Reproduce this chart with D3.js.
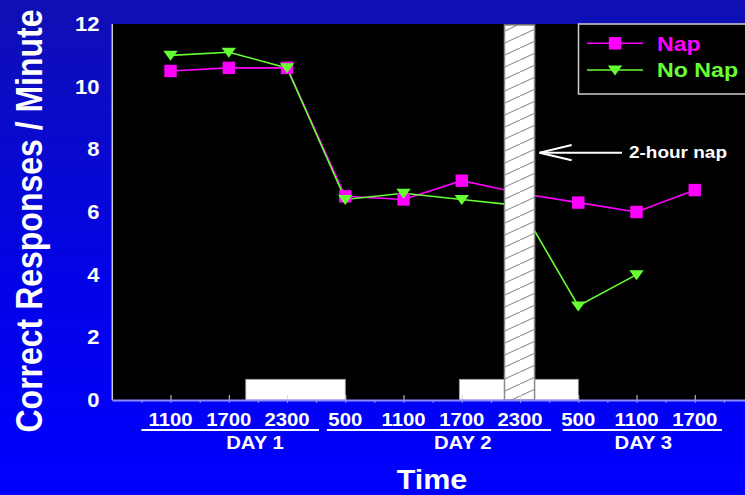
<!DOCTYPE html>
<html><head><meta charset="utf-8">
<script src="https://cdn.jsdelivr.net/npm/d3@7"></script>
<style>html,body{margin:0;padding:0;overflow:hidden;background:#0000ff}</style>
</head><body>
<svg id="chart" width="745" height="495"></svg>
<script>
// ---- data ----
const hours = [11, 17, 23, 29, 35, 41, 47, 53, 59, 65];
const timeLabels = ["1100", "1700", "2300", "500", "1100", "1700", "2300", "500", "1100", "1700"];
const napValues = [10.5, 10.6, 10.6, 6.5, 6.4, 7.0, 6.6, 6.3, 6.0, 6.7];
const noNapValues = [11.0, 11.1, 10.6, 6.4, 6.6, 6.4, 6.2, 3.0, 4.0, null];
const dayLabels = ["DAY 1", "DAY 2", "DAY 3"];
const dayCenters = [19.7, 41.1, 59.7];
const dayRanges = [[8, 26.3], [27.1, 50.2], [51.4, 67.8]];
const yTicks = [0, 2, 4, 6, 8, 10, 12];
const sleepBars = [[18.75, 29], [40.75, 53]];
const sleepBarHeight = 0.66;
const napBar = [45.4, 48.5];
const seriesNames = ["Nap", "No Nap"];
const seriesColors = ["#ff00ff", "#66ff33"];

const SX = 1.13;
const FONT = "'Liberation Sans', Arial, Helvetica, sans-serif";
const svg = d3.select("#chart");

const x = d3.scaleLinear().domain([5, 71]).range([112.3, 753]);
const y = d3.scaleLinear().domain([0, 12]).range([400, 24]);

const defs = svg.append("defs");
const grad = defs.append("linearGradient").attr("id", "bg").attr("x1", 0).attr("y1", 0).attr("x2", 0).attr("y2", 1);
grad.append("stop").attr("offset", "0%").attr("stop-color", "#1010b4");
grad.append("stop").attr("offset", "55%").attr("stop-color", "#0303e6");
grad.append("stop").attr("offset", "100%").attr("stop-color", "#0000ff");
const pat = defs.append("pattern").attr("id", "hatch").attr("patternUnits", "userSpaceOnUse")
  .attr("width", 26).attr("height", 12);
pat.append("rect").attr("width", 26).attr("height", 12).attr("fill", "#fff");
pat.append("line").attr("x1", -2).attr("y1", 12.92).attr("x2", 28).attr("y2", -0.92)
  .attr("stroke", "#8a8a8a").attr("stroke-width", 1.1);

svg.append("rect").attr("width", 745).attr("height", 495).attr("fill", "url(#bg)");

// plot area
svg.append("rect").attr("x", x(5)).attr("y", y(12)).attr("width", x(71) - x(5)).attr("height", y(0) - y(12))
  .attr("fill", "#000");
svg.append("line").attr("x1", x(5)).attr("x2", x(5)).attr("y1", y(12)).attr("y2", y(0))
  .attr("stroke", "#c8c8c8").attr("stroke-width", 1.5);

// sleep bars
svg.selectAll("rect.sleep").data(sleepBars).join("rect").attr("class", "sleep")
  .attr("x", d => x(d[0])).attr("width", d => x(d[1]) - x(d[0]))
  .attr("y", y(sleepBarHeight)).attr("height", y(0) - y(sleepBarHeight))
  .attr("fill", "#fff").attr("stroke", "#a0a0a0").attr("stroke-width", 0.8);

// lines
const series = [napValues, noNapValues];
const line = d3.line().defined(d => d.v !== null).x(d => x(d.h)).y(d => y(d.v));
series.forEach((vals, i) => {
  const pts = hours.map((h, j) => ({h, v: vals[j]}));
  svg.append("path").datum(pts).attr("d", line).attr("fill", "none")
    .attr("stroke", seriesColors[i]).attr("stroke-width", 1.6);
});
function square(g, cx, cy, c) {
  g.append("rect").attr("x", cx - 6.2).attr("y", cy - 6.2).attr("width", 12.4).attr("height", 12.4).attr("fill", c);
}
function tri(g, cx, cy, c) {
  g.append("path").attr("d", `M${cx - 7.2},${cy - 4.5}L${cx + 7.2},${cy - 4.5}L${cx},${cy + 5.5}Z`).attr("fill", c);
}
const mk = svg.append("g");
hours.forEach((h, j) => { square(mk, x(h), y(napValues[j]), seriesColors[0]); });
hours.forEach((h, j) => { if (noNapValues[j] !== null) tri(mk, x(h), y(noNapValues[j]), seriesColors[1]); });

// nap hatch bar
svg.append("rect").attr("x", x(napBar[0])).attr("width", x(napBar[1]) - x(napBar[0]))
  .attr("y", y(12) + 1).attr("height", y(0) - y(12) - 1)
  .attr("fill", "url(#hatch)").attr("stroke", "#8a8a8a").attr("stroke-width", 1.5);

// x axis
const minorTicks = d3.range(8, 71, 3);
const xAxisMinor = d3.axisBottom(x).tickValues(minorTicks).tickSize(3).tickFormat("");
const gx = svg.append("g").attr("transform", `translate(0,${y(0)})`).call(xAxisMinor);
gx.select(".domain").remove();
gx.selectAll("line").attr("stroke", "#9a9ac8").attr("stroke-width", 1);
const xAxisMajor = d3.axisTop(x).tickValues(hours).tickSize(5).tickFormat("");
const gx2 = svg.append("g").attr("transform", `translate(0,${y(0)})`).call(xAxisMajor);
gx2.select(".domain").remove();
gx2.selectAll("line").attr("stroke", "#d8d8d8").attr("stroke-width", 1);
svg.append("line").attr("x1", x(5)).attr("x2", 745).attr("y1", y(0) + 0.5).attr("y2", y(0) + 0.5)
  .attr("stroke", "#8c8cff").attr("stroke-width", 2);

// x labels
svg.selectAll("text.xt").data(hours).join("text").attr("class", "xt")
  .attr("transform", d => `translate(${x(d)},426) scale(${SX},1)`)
  .attr("text-anchor", "middle").attr("fill", "#fff")
  .style("font", `bold 18px ${FONT}`).text((d, i) => timeLabels[i]);
svg.selectAll("line.ul").data(dayRanges).join("line").attr("class", "ul")
  .attr("x1", d => x(d[0])).attr("x2", d => x(d[1])).attr("y1", 430).attr("y2", 430)
  .attr("stroke", "#fff").attr("stroke-width", 2);
svg.selectAll("text.day").data(dayCenters).join("text").attr("class", "day")
  .attr("transform", d => `translate(${x(d)},449) scale(${SX},1)`)
  .attr("text-anchor", "middle").attr("fill", "#fff")
  .style("font", `bold 18px ${FONT}`).text((d, i) => dayLabels[i]);

// y labels
svg.selectAll("text.yt").data(yTicks).join("text").attr("class", "yt")
  .attr("transform", d => `translate(99.5,${y(d) + 7}) scale(${SX},1)`)
  .attr("text-anchor", "end").attr("fill", "#fff")
  .style("font", `bold 19.5px ${FONT}`).text(d => d);

// axis titles
svg.append("text").attr("transform", `translate(41.5,221) scale(${SX},1) rotate(-90)`)
  .attr("text-anchor", "middle").attr("fill", "#fff")
  .style("font", `bold 32px ${FONT}`).text("Correct Responses / Minute");
svg.append("text").attr("transform", `translate(432,489) scale(${SX},1)`)
  .attr("text-anchor", "middle").attr("fill", "#fff")
  .style("font", `bold 27px ${FONT}`).text("Time");

// legend
svg.append("rect").attr("x", 578.5).attr("y", 24).attr("width", 200).attr("height", 70)
  .attr("fill", "#000").attr("stroke", "#cfcfcf").attr("stroke-width", 1.5);
const legY = [43.3, 70];
seriesNames.forEach((n, i) => {
  svg.append("line").attr("x1", 587).attr("x2", 643).attr("y1", legY[i]).attr("y2", legY[i])
    .attr("stroke", seriesColors[i]).attr("stroke-width", 1.6);
  if (i === 0) square(svg, 615, legY[i], seriesColors[i]); else tri(svg, 615, legY[i], seriesColors[i]);
  svg.append("text").attr("transform", `translate(657,${legY[i] + 7.2}) scale(${SX},1)`)
    .attr("fill", seriesColors[i]).style("font", `bold 20.5px ${FONT}`).text(n);
});

// annotation
const ann = svg.append("g").attr("stroke", "#fff").attr("stroke-width", 2).attr("fill", "none");
ann.append("line").attr("x1", 539.5).attr("x2", 622).attr("y1", 152.7).attr("y2", 152.7);
ann.append("path").attr("d", "M571.7,145L539.5,152.7L571.7,160.3");
svg.append("text").attr("transform", `translate(629,157.8) scale(${SX},1)`)
  .attr("fill", "#fff").style("font", `bold 16.8px ${FONT}`).text("2-hour nap");
</script>
</body></html>
